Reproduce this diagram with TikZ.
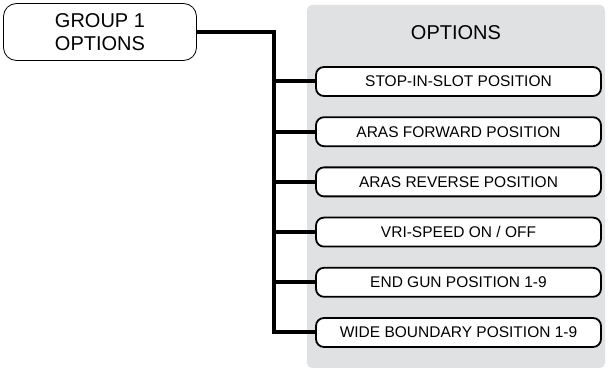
\documentclass[tikz,border=0pt]{standalone}
\usepackage{fontspec}
\setmainfont{Liberation Sans}
\usepackage{tikz}
\usetikzlibrary{positioning}
\definecolor{panelgray}{RGB}{224,225,227}
\tikzstyle{groupbox} = [rectangle, draw, rounded corners=13pt, minimum width=193pt, minimum height=57pt, align=center, font=\fontsize{20}{23}\selectfont, line width=0.8pt]
\tikzstyle{optbox} = [rectangle, draw, fill=white, rounded corners=8pt, minimum width=285pt, minimum height=29pt, line width=1.8pt, font=\fontsize{15.5}{18}\selectfont]
\tikzstyle{link} = [line width=4pt]

\begin{document}
\begin{tikzpicture}[x=1pt, y=-1pt, node distance=19.4pt]
\useasboundingbox (0,0) rectangle (608,371);

% Options panel
\fill[panelgray, rounded corners=5pt] (307,5) rectangle (605,368);
\node[font=\fontsize{20}{24}\selectfont] (head) at (456,33) {OPTIONS};

% Group
\node[groupbox] (grp) at (100,32) {GROUP 1\\OPTIONS};

% Options
\node[optbox] (sis) at (458.5,81.5) {STOP-IN-SLOT POSITION};
\node[optbox, below=of sis] (fwd) {ARAS FORWARD POSITION};
\node[optbox, below=of fwd] (rev) {ARAS REVERSE POSITION};
\node[optbox, below=of rev] (vri) {VRI-SPEED ON / OFF};
\node[optbox, below=of vri] (egun) {END GUN POSITION 1-9};
\node[optbox, below=of egun] (wide) {WIDE BOUNDARY POSITION 1-9};

% Connectors
\coordinate (trunk) at (274,0);
\draw[link] (grp.east) -| (trunk |- wide.west) -- (wide.west);
\foreach \o in {sis,fwd,rev,vri,egun}
  \draw[link] (trunk |- \o.west) -- (\o.west);

\end{tikzpicture}
\end{document}
